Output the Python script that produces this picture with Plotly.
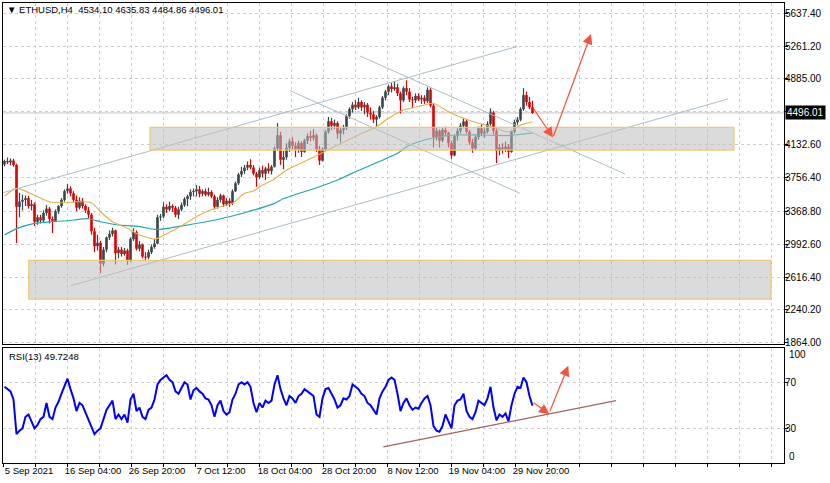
import pandas as pd
import plotly.graph_objects as go

# ---------------- data (12h candles) ----------------
candle_start = "2021-09-05 12:00"

open_ = [3905,3945,3930,3950,3900,3420,3480,3500,3520,3430,
         3450,3250,3300,3265,3350,3400,3280,3260,3370,3430,
         3500,3600,3630,3575,3500,3410,3490,3430,3380,3330,
         3140,2970,3010,2770,2930,3070,3110,3150,2890,2930,
         2880,2920,2810,3050,3130,2940,2990,2850,2840,2900,
         2960,3000,3300,3310,3420,3390,3430,3410,3330,3390,
         3440,3510,3540,3590,3600,3620,3570,3600,3560,3590,
         3540,3420,3500,3550,3450,3490,3460,3600,3690,3790,
         3830,3870,3900,3870,3800,3760,3840,3800,3860,3830,
         3880,4090,4240,3960,3990,4100,4170,4120,4080,4150,
         4050,4180,4230,4210,4240,4080,3950,4080,4280,4400,
         4350,4380,4260,4300,4320,4460,4540,4590,4560,4620,
         4560,4590,4500,4480,4420,4450,4560,4670,4740,4800,
         4770,4790,4720,4640,4780,4740,4650,4640,4690,4650,
         4670,4630,4760,4580,4220,4290,4180,4300,4270,4150,
         4010,4230,4290,4350,4400,4280,4160,4090,4220,4320,
         4260,4280,4370,4500,4290,4060,4100,4080,4110,4050,
         4280,4390,4420,4540,4700,4620,4560]
high = [3960,3985,3975,3970,3915,3580,3560,3550,3545,3500,
        3470,3330,3330,3380,3440,3420,3310,3390,3440,3520,
        3620,3680,3655,3600,3550,3530,3520,3450,3420,3350,
        3180,3100,3030,2960,3080,3150,3180,3160,2960,2960,
        2950,2940,3070,3175,3150,3030,3000,2900,2930,2990,
        3050,3330,3340,3470,3450,3480,3450,3430,3420,3470,
        3530,3560,3620,3630,3670,3660,3620,3630,3640,3610,
        3560,3530,3570,3560,3520,3520,3620,3710,3810,3880,
        3900,3940,3965,3900,3820,3870,3890,3880,3920,3900,
        4110,4380,4280,4060,4150,4200,4220,4160,4180,4170,
        4200,4260,4290,4310,4260,4120,4100,4300,4450,4440,
        4420,4400,4330,4360,4480,4560,4620,4640,4670,4640,
        4620,4610,4560,4520,4470,4580,4690,4760,4820,4840,
        4860,4830,4740,4800,4870,4780,4680,4720,4720,4700,
        4700,4790,4780,4600,4330,4310,4330,4340,4280,4180,
        4250,4320,4380,4440,4420,4300,4200,4240,4340,4370,
        4320,4400,4550,4520,4320,4140,4150,4170,4140,4300,
        4420,4450,4560,4780,4740,4680,4635.83]
low = [3885,3910,3895,3880,3005,3300,3380,3430,3400,3380,
       3200,3215,3230,3240,3320,3230,3120,3250,3340,3410,
       3480,3570,3540,3470,3370,3390,3400,3350,3290,3100,
       2900,2920,2660,2740,2900,3040,3080,2760,2830,2850,
       2860,2755,2790,3030,2920,2910,2830,2810,2820,2880,
       2940,2990,3260,3290,3350,3370,3360,3300,3280,3370,
       3420,3430,3500,3540,3540,3530,3540,3540,3540,3520,
       3390,3400,3470,3420,3430,3420,3440,3590,3670,3760,
       3800,3840,3850,3780,3650,3740,3760,3730,3800,3790,
       3870,4060,3900,3850,3960,4050,4080,3990,4040,3990,
       4040,4140,4170,4180,4050,3900,3940,4060,4260,4300,
       4310,4200,4160,4250,4300,4430,4500,4530,4540,4520,
       4480,4450,4420,4380,4335,4430,4540,4640,4700,4730,
       4750,4690,4490,4620,4700,4620,4550,4610,4630,4600,
       4600,4610,4560,4100,4180,4100,4160,4230,4100,3970,
       4000,4180,4260,4320,4260,4130,4040,4070,4190,4230,
       4210,4260,4350,4250,3920,4010,4030,4050,3980,4040,
       4260,4360,4400,4520,4580,4540,4484.86]
close = [3945,3930,3950,3900,3420,3480,3500,3520,3430,3450,
         3250,3300,3265,3350,3400,3280,3260,3370,3430,3500,
         3600,3630,3575,3500,3410,3490,3430,3380,3330,3140,
         2970,3010,2770,2930,3070,3110,3150,2890,2930,2880,
         2920,2810,3050,3130,2940,2990,2850,2840,2900,2960,
         3000,3300,3310,3420,3390,3430,3410,3330,3390,3440,
         3510,3540,3590,3600,3620,3570,3600,3560,3590,3540,
         3420,3500,3550,3450,3490,3460,3600,3690,3790,3830,
         3870,3900,3870,3800,3760,3840,3800,3860,3830,3880,
         4090,4240,3960,3990,4100,4170,4120,4080,4150,4050,
         4180,4230,4210,4240,4080,3950,4080,4280,4400,4350,
         4380,4260,4300,4320,4460,4540,4590,4560,4620,4560,
         4590,4500,4480,4420,4450,4560,4670,4740,4800,4770,
         4790,4720,4640,4780,4740,4650,4640,4690,4650,4670,
         4630,4760,4580,4220,4290,4180,4300,4270,4150,4010,
         4230,4290,4350,4400,4280,4160,4090,4220,4320,4260,
         4280,4370,4500,4290,4060,4100,4080,4110,4050,4280,
         4390,4420,4540,4700,4620,4560,4496.01]

rsi = [66,64,62,55,25,28,30,40,42,36,
       30,33,38,40,52,40,38,48,53,60,
       66,73,64,56,45,52,50,44,38,32,
       25,28,30,38,46,50,54,38,42,38,
       42,35,55,60,45,48,40,38,46,48,
       55,68,72,74,76,72,70,62,60,65,
       70,68,55,63,65,62,60,56,55,50,
       40,50,54,45,42,44,55,60,68,70,
       68,70,66,52,44,52,48,54,52,54,
       68,76,64,56,50,58,56,52,58,60,
       64,62,60,58,42,40,56,64,65,60,
       55,48,50,56,55,58,68,66,64,60,
       58,52,50,46,42,56,62,66,72,74,
       72,60,45,52,56,50,46,48,47,52,
       56,58,50,32,28,27,32,42,36,30,
       50,54,55,60,45,40,38,44,54,52,
       50,56,66,48,37,42,40,43,36,50,
       60,66,65,74,70,58,49.7248]

# moving averages, sampled at candle indexes
ma_fast_idx = [0,4,10,15,21,24,29,32,36,41,45,50,51,55,59,61,65,71,76,80,
               83,86,90,94,103,111,118,124,128,133,140,143,148,153,158,164,167,169,172,176]
ma_fast = [3544,3632,3555,3478,3467,3478,3467,3364,3249,3174,3097,3051,3059,3130,3200,3245,3326,3412,3460,3575,
           3601,3670,3739,3842,3987,4128,4243,4338,4434,4529,4587,4606,4510,4434,4377,4320,4281,4289,4358,4395]
ma_slow_idx = [0,4,10,15,21,28,32,38,44,50,52,60,71,80,90,93,105,111,116,131,134,138,143,150,159,168,176]
ma_slow = [3097,3171,3231,3249,3261,3284,3249,3212,3200,3162,3162,3206,3275,3352,3460,3515,3650,3727,3807,
           4033,4109,4166,4209,4243,4243,4237,4266]

price_ticks = [1864.00, 2240.20, 2616.40, 2992.60, 3368.80, 3756.40, 4132.60, 4508.80, 4885.00, 5261.20, 5637.40]
price_labels = ["1864.00", "2240.20", "2616.40", "2992.60", "3368.80", "3756.40", "4132.60", "", "4885.00", "5261.20", "5637.40"]

time_ticks = ["2021-09-05 12:00","2021-09-10 20:00","2021-09-16 04:00","2021-09-21 12:00","2021-09-26 20:00",
              "2021-10-02 04:00","2021-10-07 12:00","2021-10-12 20:00","2021-10-18 04:00","2021-10-23 12:00",
              "2021-10-28 20:00","2021-11-03 04:00","2021-11-08 12:00","2021-11-13 20:00","2021-11-19 04:00",
              "2021-11-24 12:00","2021-11-29 20:00","2021-12-05 04:00","2021-12-10 12:00","2021-12-15 20:00",
              "2021-12-21 04:00","2021-12-26 12:00","2021-12-31 20:00","2022-01-06 04:00","2022-01-11 12:00"]
time_labels = ["5 Sep 2021","","16 Sep 04:00","","26 Sep 20:00","","7 Oct 12:00","","18 Oct 04:00","",
               "28 Oct 20:00","","8 Nov 12:00","","19 Nov 04:00","","29 Nov 20:00","","","","","","","",""]

last_bar = (4534.10, 4635.83, 4484.86, 4496.01)
rsi_last = 49.7248

# ---------------- helpers ----------------
T0 = pd.Timestamp(candle_start)
H4 = pd.Timedelta(hours=4)
n = len(close)
times = list(pd.date_range(candle_start, periods=n, freq="12h") + pd.Timedelta(hours=6))

def bt(b):
    return (T0 + H4 * b).strftime("%Y-%m-%d %H:%M:%S")

BULL = "#36464b"
BEAR = "#e00000"
GRID = "#cdcdcd"
TREND = "#a9bdca"
ARROW = "#f2553f"
FONT = "Liberation Sans, DejaVu Sans, Arial, sans-serif"

def segments(idx, a, b):
    xs, ys = [], []
    for i in idx:
        xs += [times[i], times[i], None]
        ys += [a[i], b[i], None]
    return xs, ys

up = [i for i in range(n) if close[i] >= open_[i]]
dn = [i for i in range(n) if close[i] < open_[i]]

fig = go.Figure()
for idx, col in ((up, BULL), (dn, BEAR)):
    xs, ys = segments(idx, low, high)
    fig.add_trace(go.Scatter(x=xs, y=ys, mode="lines", line=dict(color=col, width=1.2),
                             hoverinfo="skip", showlegend=False, xaxis="x", yaxis="y"))
    xs, ys = segments(idx, open_, close)
    fig.add_trace(go.Scatter(x=xs, y=ys, mode="lines", line=dict(color=col, width=2.6),
                             hoverinfo="skip", showlegend=False, xaxis="x", yaxis="y"))

fig.add_trace(go.Scatter(x=[times[i] for i in ma_slow_idx], y=ma_slow, mode="lines",
                         line=dict(color="#22a6a6", width=1.2, shape="spline", smoothing=0.6),
                         showlegend=False, xaxis="x", yaxis="y"))
fig.add_trace(go.Scatter(x=[times[i] for i in ma_fast_idx], y=ma_fast, mode="lines",
                         line=dict(color="#e2b04a", width=1.1, shape="spline", smoothing=0.6),
                         showlegend=False, xaxis="x", yaxis="y"))

fig.add_trace(go.Scatter(x=times, y=rsi, mode="lines", line=dict(color="#0000ff", width=2),
                         showlegend=False, xaxis="x2", yaxis="y2"))

# ---------------- drawings ----------------
shapes = []
shapes.append(dict(type="line", xref="x domain", yref="y", x0=0, x1=1, y0=last_bar[3], y1=last_bar[3],
                   line=dict(color="#c4c4c4", width=1), layer="below"))
for (b0, p0, b1, p1) in [(0, 3582, 514, 5257), (68, 2517, 725, 4656),
                         (357, 5148, 622, 3797), (287, 4751, 517, 3575)]:
    shapes.append(dict(type="line", xref="x", yref="y", x0=bt(b0), y0=p0, x1=bt(b1), y1=p1,
                       line=dict(color=TREND, width=1), layer="above"))
for (b0, p0, b1, p1) in [(147, 4071, 731, 4331), (25.7, 2364, 768, 2808)]:
    shapes.append(dict(type="rect", xref="x", yref="y", x0=bt(b0), y0=p0, x1=bt(b1), y1=p1,
                       fillcolor="rgba(190,190,190,0.55)",
                       line=dict(color="rgba(238,198,110,0.95)", width=1.2), layer="above"))
shapes.append(dict(type="line", xref="x2", yref="y2", x0=bt(380.3), y0=14.0, x1=bt(613), y1=54.0,
                   line=dict(color="#a8605c", width=1.2), layer="above"))

annotations = []
def arrow(b_tail, v_tail, b_tip, v_tip, xr, yr):
    return dict(x=bt(b_tip), y=v_tip, ax=bt(b_tail), ay=v_tail, xref=xr, yref=yr, axref=xr, ayref=yr,
                showarrow=True, arrowhead=2, arrowsize=1.7, arrowwidth=1.2, arrowcolor=ARROW, text="")
annotations += [arrow(530, 4553, 550, 4215, "x", "y"), arrow(550, 4215, 588, 5400, "x", "y"),
                arrow(529.3, 53.1, 546.3, 42.4, "x2", "y2"), arrow(546.3, 43.6, 565.3, 84.2, "x2", "y2")]

title = "\u25bc ETHUSD,H4\u00a0\u00a0%.2f %.2f %.2f %.2f" % last_bar
annotations.append(dict(text=title, xref="paper", yref="paper", x=0.003, y=0.985, xanchor="left",
                        yanchor="middle", showarrow=False, font=dict(family=FONT, size=9.5, color="black")))
annotations.append(dict(text="RSI(13) %.4f" % rsi_last, xref="paper", yref="paper", x=0.005, y=0.2326,
                        xanchor="left", yanchor="middle", showarrow=False,
                        font=dict(family=FONT, size=9.5, color="black")))
annotations.append(dict(text="%.2f" % last_bar[3], xref="paper", yref="y", x=1, y=last_bar[3], xanchor="left",
                        yanchor="middle", xshift=1, showarrow=False, bgcolor="black", borderpad=1,
                        font=dict(family=FONT, size=10, color="white")))
for txt, yy in (("100", 0.236), ("0", 0.015)):
    annotations.append(dict(text=txt, xref="paper", yref="paper", x=1, y=yy, xanchor="left", yanchor="middle",
                            xshift=3, showarrow=False, font=dict(family=FONT, size=10, color="black")))

x_range = [bt(0), bt(781)]
xcommon = dict(range=x_range, type="date", tickmode="array", tickvals=time_ticks, showgrid=True,
               gridcolor=GRID, griddash="3px,3px", gridwidth=1, showline=True, linecolor="black",
               linewidth=1, mirror=True, zeroline=False, automargin=False)

fig.update_layout(
    width=830, height=483, margin=dict(l=3, r=46, t=3, b=20),
    paper_bgcolor="white", plot_bgcolor="white", showlegend=False,
    font=dict(family=FONT, size=10, color="black"),
    xaxis=dict(**xcommon, anchor="y", ticktext=[""] * len(time_ticks), showticklabels=False, ticks=""),
    xaxis2=dict(**xcommon, anchor="y2", matches="x", ticktext=time_labels, ticks="outside", ticklen=3,
                tickcolor="black", ticklabelshift=26, ticklabelstandoff=-4,
                tickfont=dict(family=FONT, size=9.5)),
    yaxis=dict(domain=[0.2587, 1], range=[1848.9, 5755.4], side="right", tickmode="array",
               tickvals=price_ticks, ticktext=price_labels, ticks="outside", ticklen=3, tickcolor="black",
               showgrid=True, gridcolor=GRID, griddash="3px,3px", showline=True, linecolor="black",
               linewidth=1, mirror=True, zeroline=False, automargin=False, ticklabelstandoff=-5,
               tickfont=dict(family=FONT, size=10)),
    yaxis2=dict(domain=[0, 0.251], range=[0, 100], side="right", tickmode="array", tickvals=[30, 70],
                ticktext=["30", "70"], ticks="outside", ticklen=3, tickcolor="black", showgrid=True,
                gridcolor=GRID, griddash="3px,3px", showline=True, linecolor="black", linewidth=1,
                mirror=True, zeroline=False, automargin=False, ticklabelstandoff=-5,
                tickfont=dict(family=FONT, size=10)),
    shapes=shapes, annotations=annotations,
)

fig.write_html("out.html", config={"displayModeBar": False},
               post_script="document.body.style.margin='0';document.body.style.overflow='hidden';")
